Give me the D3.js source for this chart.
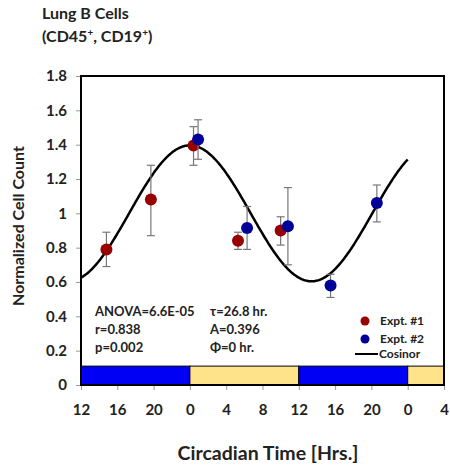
<!DOCTYPE html>
<html><head><meta charset="utf-8">
<script src="https://cdn.jsdelivr.net/npm/d3@7"></script>
<style>body{margin:0;background:#fff;} text{font-family:Lato,"Open Sans",sans-serif;font-weight:bold;fill:#222;}</style>
</head><body>
<svg id="c" width="450" height="469"></svg>
<script>
// ---- data (time in hours relative to CT 0 of the first day) ----
const xTicks = [-12, -8, -4, 0, 4, 8, 12, 16, 20, 24, 28];
const yTicks = [0, 0.2, 0.4, 0.6, 0.8, 1, 1.2, 1.4, 1.6, 1.8];
const expt1Time  = [-9.2, -4.3, 0.4, 5.3, 10.0];
const expt1Value = [0.79, 1.08, 1.395, 0.84, 0.90];
const expt1Lo    = [0.69, 0.87, 1.28, 0.79, 0.815];
const expt1Hi    = [0.89, 1.28, 1.505, 0.89, 0.98];
const expt2Time  = [0.9, 6.3, 10.8, 15.5, 20.6];
const expt2Value = [1.43, 0.915, 0.925, 0.58, 1.06];
const expt2Lo    = [1.315, 0.79, 0.70, 0.51, 0.95];
const expt2Hi    = [1.545, 1.04, 1.15, 0.645, 1.165];
// cosinor fit parameters (from chart annotation)
const cosMesor = 1.0, cosAmp = 0.396, cosPeriod = 26.8, cosPhase = 0;
const cosRange = [-12, 24];
// light/dark bar
const ldStart = [-12, 0, 12, 24];
const ldEnd   = [0, 12, 24, 28];
const ldType  = ["dark", "light", "dark", "light"];
const ldHeight = 0.11;
const statsLeft  = ["ANOVA=6.6E-05", "r=0.838", "p=0.002"];
const statsRight = ["τ=26.8 hr.", "A=0.396", "Φ=0 hr."];

const svg = d3.select("#c");
const x = d3.scaleLinear().domain([-12, 28]).range([81, 444]);
const y = d3.scaleLinear().domain([0, 1.8]).range([385, 76]);

// light/dark bar
svg.selectAll("rect.ld").data(ldStart).join("rect")
  .attr("x", (d,i)=>x(d)).attr("width",(d,i)=>x(ldEnd[i])-x(d))
  .attr("y", y(ldHeight)).attr("height", y(0)-y(ldHeight))
  .attr("fill",(d,i)=>ldType[i]==="dark"?"#0000f5":"#ffe38a")
  .attr("stroke","#000").attr("stroke-width",1);

// axes
const yAxis = d3.axisLeft(y).tickValues(yTicks).tickSize(5).tickPadding(9)
  .tickFormat(d=>String(+d.toFixed(1)));
const gy = svg.append("g").attr("transform","translate(81,0)").call(yAxis);
gy.select(".domain").remove();
gy.selectAll(".tick line").attr("stroke","#999");
gy.selectAll(".tick text").style("font-size","15px").attr("fill","#222");

const xAxis = d3.axisBottom(x).tickValues(xTicks).tickSize(5).tickPadding(14)
  .tickFormat(d=>String(((d%24)+24)%24));
const gx = svg.append("g").attr("transform","translate(0,385)").call(xAxis);
gx.select(".domain").remove();
gx.selectAll(".tick line").attr("stroke","#999");
gx.selectAll(".tick text").style("font-size","15px").attr("fill","#222");

// frame
svg.append("rect").attr("x",x(-12)).attr("y",y(1.8)).attr("width",x(28)-x(-12)).attr("height",y(0)-y(1.8))
  .attr("fill","none").attr("stroke","#000").attr("stroke-width",2);

// cosinor curve
const cosT = d3.range(cosRange[0], cosRange[1]+0.001, 0.1);
const cosLine = d3.line().x(t=>x(t)).y(t=>y(cosMesor + cosAmp*Math.cos(2*Math.PI*(t-cosPhase)/cosPeriod))).curve(d3.curveBasis);
svg.append("path").datum(cosT).attr("d",cosLine).attr("fill","none").attr("stroke","#000").attr("stroke-width",2.5);

// error bars and points
function series(times, vals, lo, hi, color){
  const g = svg.append("g");
  times.forEach((t,i)=>{
    const cx = x(t);
    g.append("line").attr("x1",cx).attr("x2",cx).attr("y1",y(lo[i])).attr("y2",y(hi[i])).attr("stroke","#777").attr("stroke-width",1.2);
    [lo[i],hi[i]].forEach(v=>g.append("line").attr("x1",cx-4).attr("x2",cx+4).attr("y1",y(v)).attr("y2",y(v)).attr("stroke","#777").attr("stroke-width",1.2));
  });
  g.selectAll("circle").data(times).join("circle").attr("cx",d=>x(d)).attr("cy",(d,i)=>y(vals[i])).attr("r",6).attr("fill",color);
}
series(expt1Time, expt1Value, expt1Lo, expt1Hi, "#990000");
series(expt2Time, expt2Value, expt2Lo, expt2Hi, "#000099");

// stats text
statsLeft.forEach((s,i)=>svg.append("text").attr("x",95).attr("y",316+i*18).style("font-size","13px").text(s));
statsRight.forEach((s,i)=>svg.append("text").attr("x",210).attr("y",316+i*18).style("font-size","13px").text(s));

// legend
const lg = svg.append("g");
lg.append("circle").attr("cx",365).attr("cy",321).attr("r",4.5).attr("fill","#990000");
lg.append("text").attr("x",380).attr("y",325).style("font-size","12px").text("Expt. #1");
lg.append("circle").attr("cx",365).attr("cy",339).attr("r",4.5).attr("fill","#000099");
lg.append("text").attr("x",380).attr("y",343).style("font-size","12px").text("Expt. #2");
lg.append("line").attr("x1",355).attr("x2",378).attr("y1",354).attr("y2",354).attr("stroke","#000").attr("stroke-width",2);
lg.append("text").attr("x",379).attr("y",358).style("font-size","12px").text("Cosinor");

// titles
const t1 = svg.append("text").attr("x",42).attr("y",19).style("font-size","16px").text("Lung B Cells");
const t2 = svg.append("text").attr("x",42).attr("y",42).style("font-size","16px");
t2.append("tspan").text("(CD45");
t2.append("tspan").attr("dy",-6).style("font-size","10px").text("+");
t2.append("tspan").attr("dy",6).text(", CD19");
t2.append("tspan").attr("dy",-6).style("font-size","10px").text("+");
t2.append("tspan").attr("dy",6).text(")");

svg.append("text").attr("transform","translate(24,226) rotate(-90)").attr("text-anchor","middle").style("font-size","16px").text("Normalized Cell Count");
svg.append("text").attr("x",268).attr("y",460).attr("text-anchor","middle").style("font-size","19.5px").text("Circadian Time [Hrs.]");
</script>
</body></html>
